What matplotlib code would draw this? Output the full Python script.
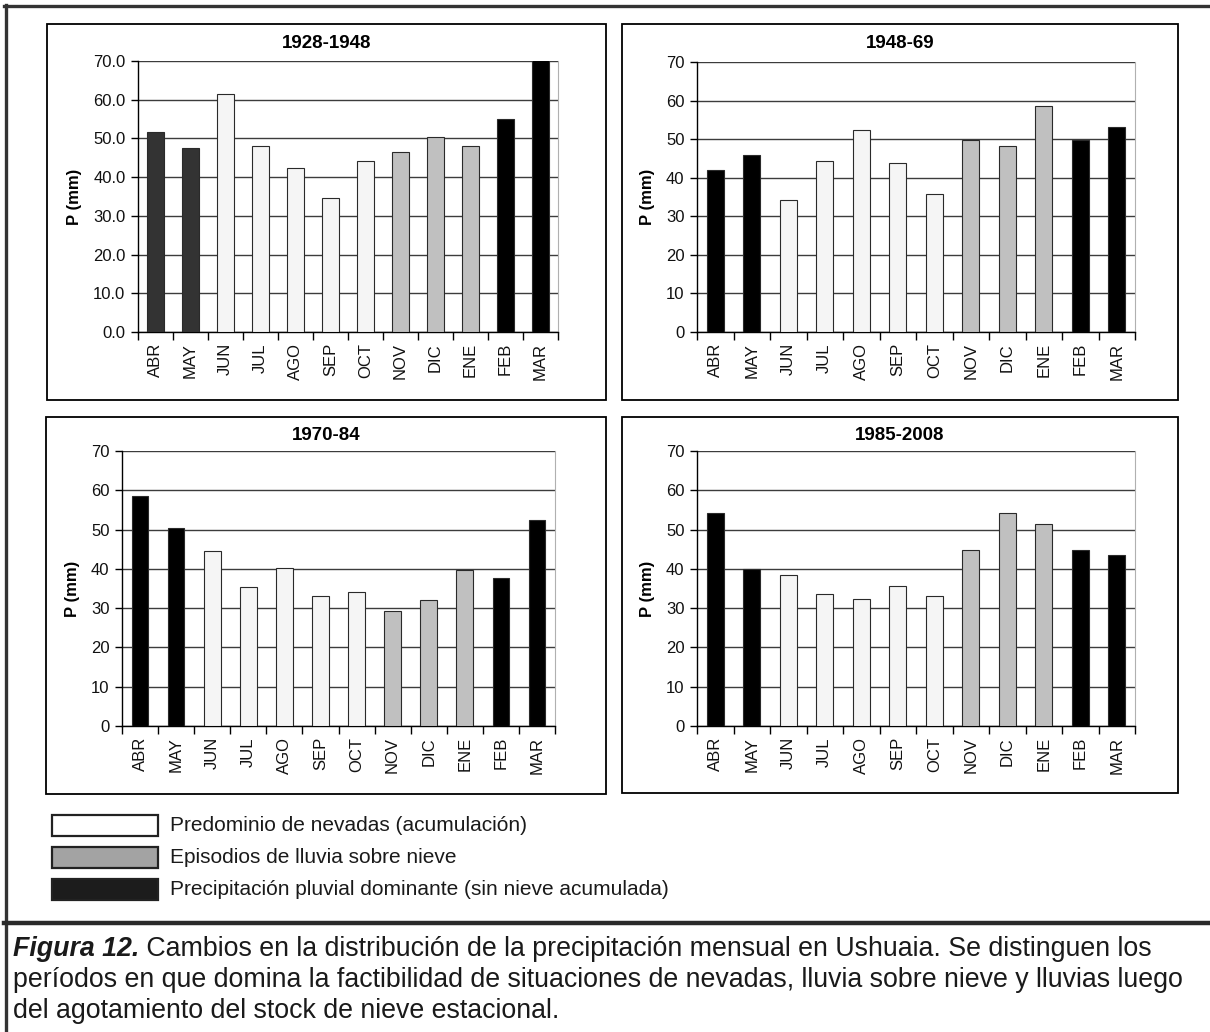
import matplotlib
matplotlib.use("Agg")
import matplotlib.pyplot as plt
from matplotlib.patches import Rectangle
from matplotlib.lines import Line2D
from matplotlib.ticker import FixedLocator, FixedFormatter

plt.rcParams['font.family'] = ['Liberation Sans', 'DejaVu Sans']

# ---------------------------------------------------------------- data
months = ['ABR', 'MAY', 'JUN', 'JUL', 'AGO', 'SEP', 'OCT',
          'NOV', 'DIC', 'ENE', 'FEB', 'MAR']

periods = ['1928-1948', '1948-69', '1970-84', '1985-2008']

p_1928_1948 = [51.6, 47.6, 61.5, 48.0, 42.4, 34.5, 44.2, 46.6, 50.3, 48.0, 55.0, 70.7]
p_1948_1969 = [42.1, 46.0, 34.1, 44.4, 52.5, 43.9, 35.7, 49.7, 48.1, 58.5, 49.7, 53.1]
p_1970_1984 = [58.5, 50.5, 44.6, 35.5, 40.3, 33.0, 34.2, 29.4, 32.2, 39.7, 37.7, 52.4]
p_1985_2008 = [54.2, 39.9, 38.5, 33.6, 32.3, 35.6, 33.1, 44.9, 54.1, 51.3, 44.7, 43.5]

# N: snowfall dominated, L: rain on snow, P: rainfall (no snow pack)
# Pd marks the rainfall months of the first period, shaded dark grey
regime_1928_1948 = ['Pd', 'Pd', 'N', 'N', 'N', 'N', 'N', 'L', 'L', 'L', 'P', 'P']
regime_later = ['P', 'P', 'N', 'N', 'N', 'N', 'N', 'L', 'L', 'L', 'P', 'P']

y_ticks = [0, 10, 20, 30, 40, 50, 60, 70]

legend_labels = ['Predominio de nevadas (acumulación)',
                 'Episodios de lluvia sobre nieve',
                 'Precipitación pluvial dominante (sin nieve acumulada)']

caption_bold = 'Figura 12.'
caption_lines = [
    ' Cambios en la distribución de la precipitación mensual en Ushuaia. Se distinguen los',
    'períodos en que domina la factibilidad de situaciones de nevadas, lluvia sobre nieve y lluvias luego',
    'del agotamiento del stock de nieve estacional.',
]

# ---------------------------------------------------------------- styles
fill = {'N': '#f5f5f5', 'L': '#c0c0c0', 'P': '#000000', 'Pd': '#333333'}
legend_fill = ['#ffffff', '#a3a3a3', '#1c1c1c']

W, H = 1210, 1032
fig = plt.figure(figsize=(W / 100, H / 100), dpi=100)
fig.patch.set_facecolor('white')


def fx(x):
    return x / W


def fy(y):
    return 1 - y / H


def px_axes(left, top, right, bottom):
    return fig.add_axes([fx(left), fy(bottom), (right - left) / W, (bottom - top) / H])


def frame(left, top, right, bottom, lw=1.3, color='black'):
    fig.add_artist(Rectangle((fx(left), fy(bottom)), (right - left) / W, (bottom - top) / H,
                             transform=fig.transFigure, facecolor='none',
                             edgecolor=color, linewidth=lw))


# panel frames (pixel boxes) and plot areas
panel_boxes = [(47, 24, 606, 400), (622, 24, 1178, 400),
               (46, 417, 606, 794), (622, 417, 1178, 793)]
plot_areas = [(138, 61, 558, 332), (697, 62, 1135, 332),
              (122, 451, 555, 726), (697, 451, 1135, 726)]
title_y = [43, 43, 435, 435]

series = [p_1928_1948, p_1948_1969, p_1970_1984, p_1985_2008]
regimes = [regime_1928_1948, regime_later, regime_later, regime_later]
tick_fmt = ['{:.1f}', '{:d}', '{:d}', '{:d}']

for box, area, ty, title, vals, reg, fmt in zip(panel_boxes, plot_areas, title_y, periods,
                                                series, regimes, tick_fmt):
    frame(*box)
    ax = px_axes(*area)
    x = list(range(len(months)))
    ax.bar(x, vals, width=0.46, color=[fill[r] for r in reg],
           edgecolor='#2a2a2a', linewidth=0.8, zorder=3)
    ax.set_xlim(-0.5, len(months) - 0.5)
    ax.set_ylim(0, 70)

    ax.yaxis.set_major_locator(FixedLocator(y_ticks))
    ax.yaxis.set_major_formatter(FixedFormatter([fmt.format(t) for t in y_ticks]))
    ax.grid(axis='y', color='#3c3c3c', linewidth=1.0, zorder=0)

    # month names centred under the bars, tick marks on category boundaries
    ax.set_xticks(x)
    ax.set_xticklabels(months, rotation=90, fontsize=12, color='#111111')
    ax.tick_params(axis='x', which='major', length=0, pad=8)
    ax.set_xticks([i - 0.5 for i in range(len(months) + 1)], minor=True)
    ax.tick_params(axis='x', which='minor', length=6, width=1, direction='out')
    ax.tick_params(axis='y', length=5, width=1, direction='out', labelsize=12,
                   labelcolor='#111111', pad=4)

    ax.spines['top'].set_visible(False)
    ax.spines['right'].set_color('#b0b0b0')
    ax.spines['left'].set_linewidth(1.0)
    ax.spines['bottom'].set_linewidth(1.0)

    ax.set_ylabel('P (mm)', fontsize=12, fontweight='bold', labelpad=8)

    # chart title centred on the whole chart frame
    fig.text(fx((box[0] + box[2]) / 2), fy(ty), title, fontsize=13.5, fontweight='bold',
             ha='center', va='center')

# legend rows
legend_rows = [(815, 836), (847, 868), (879, 900)]
for (top, bot), col, lab in zip(legend_rows, legend_fill, legend_labels):
    fig.add_artist(Rectangle((fx(52), fy(bot)), 106 / W, (bot - top) / H,
                             transform=fig.transFigure, facecolor=col,
                             edgecolor='#222222', linewidth=1.6))
    fig.text(fx(170), fy((top + bot) / 2), lab, fontsize=15, va='center', ha='left',
             color='#1a1a1a')

# outer frame and caption separator
fig.add_artist(Line2D([fx(4), 1], [fy(6), fy(6)], transform=fig.transFigure,
                      color='#333333', linewidth=2.4))
fig.add_artist(Line2D([fx(6), fx(6)], [fy(5), 0], transform=fig.transFigure,
                      color='#333333', linewidth=2.4))
fig.add_artist(Line2D([fx(4), 1], [fy(923), fy(923)], transform=fig.transFigure,
                      color='#2a2a2a', linewidth=3.2))

# caption
cap_size = 19.3
cap_y = [949, 980, 1011]
t = fig.text(fx(13), fy(cap_y[0]), caption_bold, fontsize=cap_size, fontweight='bold',
             fontstyle='italic', va='center', ha='left', color='#1a1a1a')
fig.canvas.draw()
bb = t.get_window_extent()
fig.text(bb.x1 / W, fy(cap_y[0]), caption_lines[0], fontsize=cap_size, va='center',
         ha='left', color='#1a1a1a')
for yy, line in zip(cap_y[1:], caption_lines[1:]):
    fig.text(fx(13), fy(yy), line, fontsize=cap_size, va='center', ha='left',
             color='#1a1a1a')

fig.savefig('out.png', dpi=100, facecolor='white')
